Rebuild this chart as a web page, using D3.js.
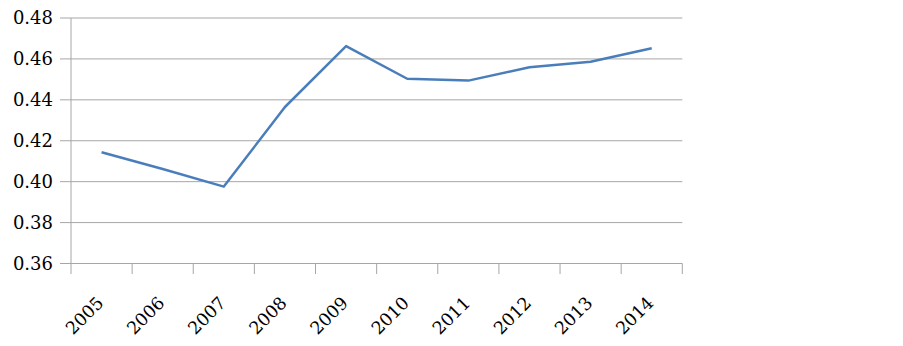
<!DOCTYPE html>
<html><head><meta charset="utf-8">
<script src="https://cdn.jsdelivr.net/npm/d3@7"></script>
<style>body{margin:0;background:#fff}</style>
</head><body><svg id="c" width="903" height="346"></svg>
<script>
const categories = ["2005","2006","2007","2008","2009","2010","2011","2012","2013","2014"];
const values = [0.4144, 0.4062, 0.3976, 0.4365, 0.4663, 0.4503, 0.4494, 0.4559, 0.4586, 0.4652];
const yTicks = [0.36, 0.38, 0.40, 0.42, 0.44, 0.46, 0.48];

(function(){
const svg = d3.select("#c");
const pLeft = 71, pRight = 682.3, pTop = 18, pBottom = 263.5;
const x = d3.scaleBand().domain(categories).range([pLeft, pRight]).padding(0);
const y = d3.scaleLinear().domain([0.36, 0.48]).range([pBottom, pTop]);
const gridColor = "#a6a6a6";
const fontFam = "'DejaVu Serif'";

svg.append("g").selectAll("line").data(yTicks).join("line")
  .attr("x1", 60).attr("x2", pRight)
  .attr("y1", d => y(d)).attr("y2", d => y(d))
  .attr("stroke", gridColor).attr("stroke-width", 1);

svg.append("line").attr("x1", pLeft).attr("x2", pLeft).attr("y1", pTop).attr("y2", pBottom)
  .attr("stroke", gridColor);

svg.append("g").selectAll("text").data(yTicks).join("text")
  .attr("x", 53).attr("y", d => y(d)).attr("dy", "0.35em")
  .attr("text-anchor", "end")
  .attr("style", "font-family:" + fontFam + ";font-size:18px")
  .attr("fill", "#000")
  .text(d => d.toFixed(2));

const xTickPos = categories.map(c => x(c)).concat([pRight]);
svg.append("g").selectAll("line").data(xTickPos).join("line")
  .attr("x1", d => d).attr("x2", d => d).attr("y1", pBottom).attr("y2", 274)
  .attr("stroke", gridColor);

svg.append("g").selectAll("text").data(categories).join("text")
  .attr("transform", c => `translate(${x(c) + x.bandwidth()/2 + 3},${304}) rotate(-45)`)
  .attr("text-anchor", "end")
  .attr("style", "font-family:" + fontFam + ";font-size:17.5px")
  .attr("fill", "#000")
  .text(c => c);

const line = d3.line().x((d, i) => x(categories[i]) + x.bandwidth()/2).y(d => y(d));
svg.append("path").datum(values).attr("d", line)
  .attr("fill", "none").attr("stroke", "#4a7ebb").attr("stroke-width", 2.5)
  .attr("stroke-linejoin", "round");
})();
</script></body></html>
